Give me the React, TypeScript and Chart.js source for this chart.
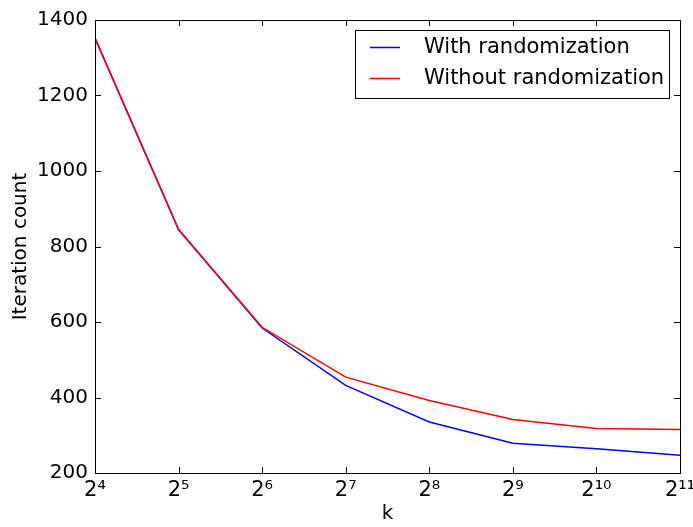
import React, { useEffect, useRef } from "react";
import { Chart, registerables } from "chart.js";

Chart.register(...registerables);

const exponents = [4, 5, 6, 7, 8, 9, 10, 11];
const withRandomization = [1352, 845, 584, 432, 335, 279, 264, 247];
const withoutRandomization = [1352, 845, 586, 454, 392, 342, 318, 315];
const yTicks = [200, 400, 600, 800, 1000, 1200, 1400];
const seriesLabels = ["With randomization", "Without randomization"];
const seriesColors = ["#0000ff", "#ff0000"];
const supDigits: Record<string, string> = {
  "0": "\u2070", "1": "\u00b9", "2": "\u00b2", "3": "\u00b3", "4": "\u2074",
  "5": "\u2075", "6": "\u2076", "7": "\u2077", "8": "\u2078", "9": "\u2079",
};
const FONT = "'DejaVu Sans', sans-serif";

const frameAndLegend = {
  id: "frameAndLegend",
  afterDraw(chart: any) {
    const { ctx, chartArea: a, scales } = chart;
    ctx.save();
    ctx.strokeStyle = "#000";
    ctx.lineWidth = 1;
    ctx.strokeRect(Math.round(a.left) + 0.5, Math.round(a.top) + 0.5, Math.round(a.right - a.left), Math.round(a.bottom - a.top));
    const tl = 6;
    ctx.beginPath();
    for (const v of exponents) {
      const x = Math.round(scales.x.getPixelForValue(v)) + 0.5;
      ctx.moveTo(x, a.bottom); ctx.lineTo(x, a.bottom - tl);
      ctx.moveTo(x, a.top); ctx.lineTo(x, a.top + tl);
    }
    for (const v of yTicks) {
      const y = Math.round(scales.y.getPixelForValue(v)) + 0.5;
      ctx.moveTo(a.left, y); ctx.lineTo(a.left + tl, y);
      ctx.moveTo(a.right, y); ctx.lineTo(a.right - tl, y);
    }
    ctx.stroke();
    // legend
    const bx = 355.5, by = 30.5, bw = 314, bh = 68;
    ctx.fillStyle = "#fff";
    ctx.fillRect(bx, by, bw, bh);
    ctx.strokeRect(bx, by, bw, bh);
    ctx.font = `21px ${FONT}`;
    ctx.textBaseline = "middle";
    ctx.textAlign = "left";
    seriesLabels.forEach((lab, i) => {
      const y = 47.5 + i * 31;
      ctx.strokeStyle = seriesColors[i];
      ctx.lineWidth = 1.5;
      ctx.beginPath();
      ctx.moveTo(370, y); ctx.lineTo(400, y);
      ctx.stroke();
      ctx.fillStyle = "#000";
      ctx.fillText(lab, 424, y);
    });
    ctx.restore();
  },
};

export default function App() {
  const ref = useRef<HTMLCanvasElement>(null);
  useEffect(() => {
    document.body.style.margin = "0";
    const chart = new Chart(ref.current!, {
      type: "line",
      data: {
        datasets: [0, 1].map((i) => ({
          label: seriesLabels[i],
          data: exponents.map((e, j) => ({ x: e, y: (i === 0 ? withRandomization : withoutRandomization)[j] })),
          borderColor: seriesColors[i],
          backgroundColor: seriesColors[i],
          borderWidth: 1.5,
          pointRadius: 0,
          tension: 0,
          order: 1 - i,
        })),
      },
      options: {
        animation: false,
        responsive: false,
        layout: { padding: { top: 20, right: 13, left: 0, bottom: 0 } },
        plugins: { legend: { display: false }, tooltip: { enabled: false } },
        scales: {
          x: {
            type: "linear",
            min: 4,
            max: 11,
            grid: { display: false, drawTicks: false },
            border: { display: false },
            afterBuildTicks: (s: any) => { s.ticks = exponents.map((v) => ({ value: v })); },
            afterFit: (s: any) => { s.height = 54; s.paddingLeft = 0; s.paddingRight = 0; },
            ticks: {
              color: "#000",
              padding: 5,
              maxRotation: 0,
              autoSkip: false,
              font: { family: FONT, size: 21 },
              callback: (v: any) => "2" + String(v).split("").map((c) => supDigits[c]).join(""),
            },
            title: { display: true, text: "k", color: "#000", font: { family: FONT, size: 20 }, padding: { top: 0, bottom: 1 } },
          },
          y: {
            min: 200,
            max: 1400,
            grid: { display: false, drawTicks: false },
            border: { display: false },
            afterBuildTicks: (s: any) => { s.ticks = yTicks.map((v) => ({ value: v })); },
            afterFit: (s: any) => { s.width = 95; s.paddingTop = 0; s.paddingBottom = 0; },
            ticks: { color: "#000", padding: 7, font: { family: FONT, size: 20 }, callback: (v: any) => String(v) },
            title: { display: true, text: "Iteration count", color: "#000", font: { family: FONT, size: 20 }, padding: { top: 9, bottom: 0 } },
          },
        },
      },
      plugins: [frameAndLegend],
    });
    return () => chart.destroy();
  }, []);
  return (
    <div style={{ position: "absolute", left: 0, top: 0, width: 693, height: 527, background: "#fff" }}>
      <canvas ref={ref} width={693} height={527} />
    </div>
  );
}
